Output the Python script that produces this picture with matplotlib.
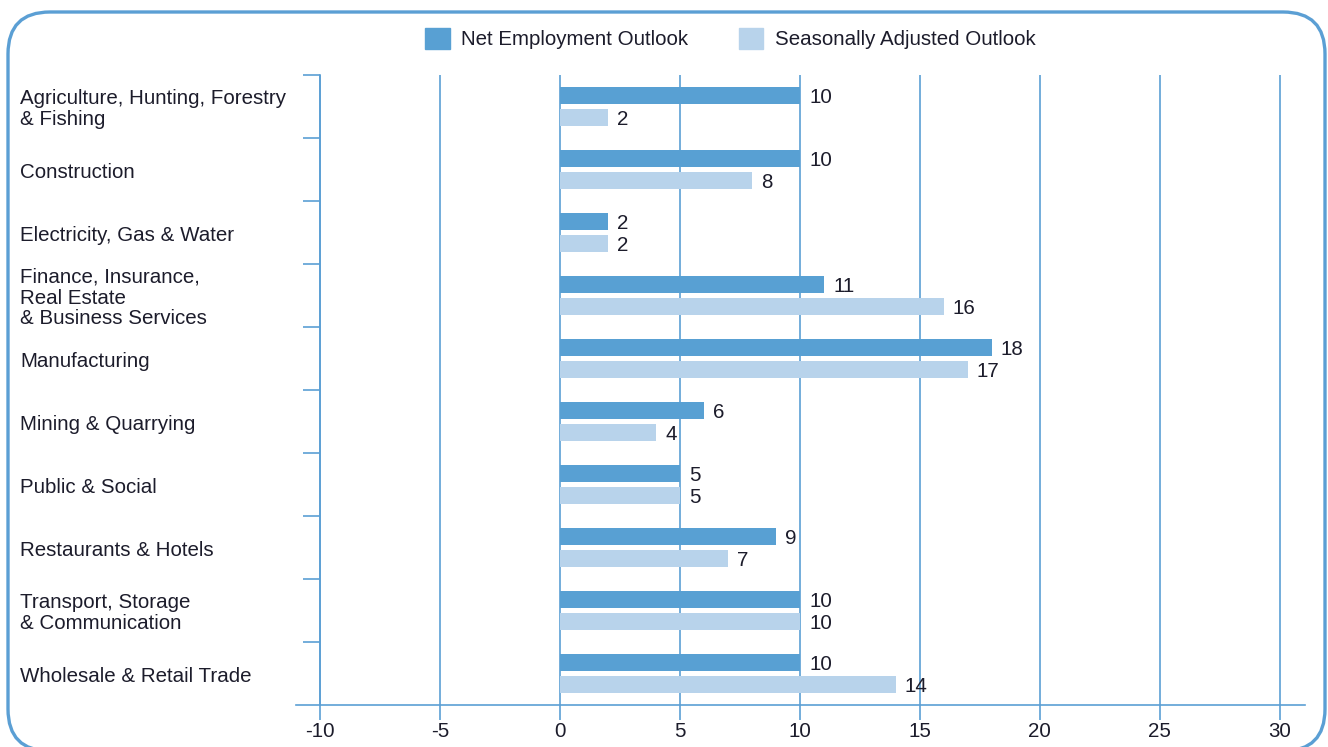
import matplotlib
matplotlib.use("Agg")
import matplotlib.pyplot as plt
import matplotlib.patches as mpatches
from matplotlib.transforms import blended_transform_factory
import numpy as np

plt.rcParams['font.family'] = ['Liberation Sans', 'DejaVu Sans']

categories = [
    "Agriculture, Hunting, Forestry\n& Fishing",
    "Construction",
    "Electricity, Gas & Water",
    "Finance, Insurance,\nReal Estate\n& Business Services",
    "Manufacturing",
    "Mining & Quarrying",
    "Public & Social",
    "Restaurants & Hotels",
    "Transport, Storage\n& Communication",
    "Wholesale & Retail Trade",
]
net_outlook = [10, 10, 2, 11, 18, 6, 5, 9, 10, 10]
seasonal_outlook = [2, 8, 2, 16, 17, 4, 5, 7, 10, 14]
x_ticks = [-10, -5, 0, 5, 10, 15, 20, 25, 30]

dark = "#58a0d3"
light = "#b8d3eb"
line_c = "#5b9fd4"
text_c = "#1c1c2b"
fs = 14.8

fig = plt.figure(figsize=(13.28, 7.47), dpi=100)
ax = fig.add_axes([296 / 1328, 1 - 705 / 747, (1305 - 296) / 1328, (705 - 75) / 747])

y = np.arange(len(categories))
h = 0.27
off_d, off_l = -0.17, 0.18
ax.barh(y + off_d, net_outlook, height=h, color=dark, zorder=3)
ax.barh(y + off_l, seasonal_outlook, height=h, color=light, zorder=3)

# value labels just right of the bar ends
for yi, v in zip(y, net_outlook):
    ax.text(v + 0.38, yi + off_d + 0.02, str(v), va="center", ha="left", fontsize=fs, color=text_c)
for yi, v in zip(y, seasonal_outlook):
    ax.text(v + 0.38, yi + off_l + 0.02, str(v), va="center", ha="left", fontsize=fs, color=text_c)

ax.set_xlim(-11, 31.05)
ax.set_ylim(len(categories) - 0.5, -0.5)

for t in x_ticks:
    ax.axvline(t, color=line_c, lw=1.2, zorder=1)

ax.spines["top"].set_visible(False)
ax.spines["right"].set_visible(False)
ax.spines["left"].set_position(("data", -10))
ax.spines["left"].set_color(line_c)
ax.spines["bottom"].set_color(line_c)
ax.spines["left"].set_linewidth(1.2)
ax.spines["bottom"].set_linewidth(1.2)

ax.set_xticks(x_ticks)
ax.set_xticklabels([str(t) for t in x_ticks], fontsize=fs, color=text_c)
ax.tick_params(axis="x", length=11, width=1.2, color=line_c, pad=1)
ax.set_yticks(np.arange(-0.5, len(categories) - 0.5, 1.0))
ax.set_yticklabels([])
ax.tick_params(axis="y", length=12, width=1.2, color=line_c)

# category names, left aligned near the frame
trans = blended_transform_factory(fig.transFigure, ax.transData)
for yi, c in zip(y, categories):
    ax.text(20 / 1328, yi + 0.04, c, transform=trans, ha="left", va="center",
            fontsize=fs, color=text_c, linespacing=1.12)

handles = [mpatches.Patch(color=dark), mpatches.Patch(color=light)]
fig.legend(handles, ["Net Employment Outlook", "Seasonally Adjusted Outlook"],
           loc="center", bbox_to_anchor=(0.55, 0.948), ncol=2, frameon=False,
           fontsize=fs, handlelength=1.2, handleheight=1.15, handletextpad=0.55,
           columnspacing=2.45, labelcolor=text_c)

border = mpatches.FancyBboxPatch((8, -4), 1317, 739,
                                 boxstyle="round,pad=0,rounding_size=42",
                                 transform=None, fill=False, edgecolor=line_c,
                                 lw=2.4, zorder=10)
fig.patches.append(border)

fig.savefig("out.png", dpi=100)
